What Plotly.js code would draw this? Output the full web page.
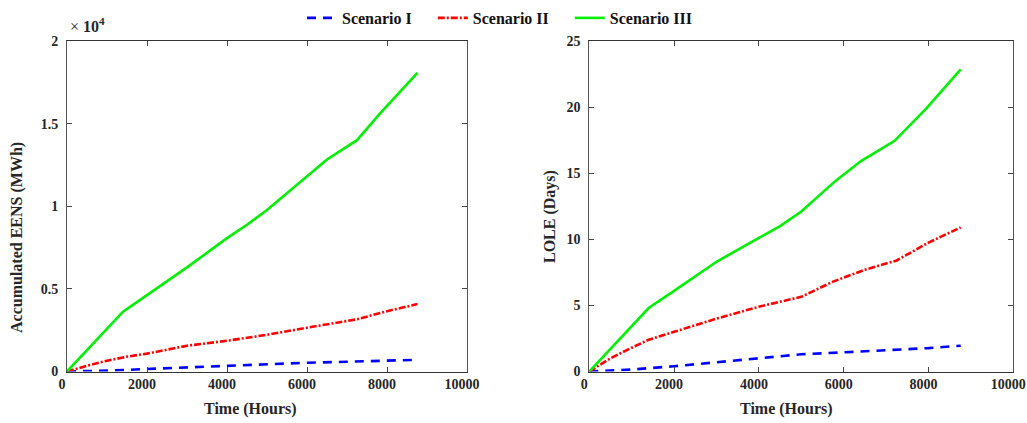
<!DOCTYPE html>
<html><head><meta charset="utf-8">
<script src="https://cdn.plot.ly/plotly-3.0.1.min.js"></script>
<style>html,body{margin:0;padding:0;background:#fff}#chart{width:1027px;height:423px}</style>
</head><body><div id="chart"></div>
<script>
// Series labels
const seriesNames = ['Scenario I', 'Scenario II', 'Scenario III'];

// Left panel: accumulated EENS (MWh)
const eensHoursI   = [0, 1000, 2000, 3000, 4000, 5000, 6000, 7000, 8000, 8760];
const eensI        = [0, 50, 150, 250, 350, 440, 530, 590, 650, 710];
const eensHoursII  = [0, 500, 1000, 1500, 2000, 3000, 4000, 5000, 6000, 7250, 8000, 8760];
const eensII       = [0, 350, 650, 900, 1080, 1560, 1860, 2220, 2650, 3160, 3650, 4080];
const eensHoursIII = [0, 1400, 2000, 3000, 4000, 4500, 5000, 6000, 6500, 7250, 7800, 8760];
const eensIII      = [0, 3620, 4620, 6300, 8070, 8880, 9770, 11820, 12830, 14000, 15550, 18070];

// Right panel: LOLE (days)
const loleHoursI   = [0, 1000, 2000, 3000, 4000, 5000, 6000, 7000, 8000, 8760];
const loleI        = [0, 0.15, 0.4, 0.7, 1.0, 1.3, 1.45, 1.6, 1.77, 1.95];
const loleHoursII  = [0, 500, 1000, 1400, 2000, 3000, 4000, 5000, 5750, 6500, 7250, 8000, 8760];
const loleII       = [0, 1.0, 1.8, 2.4, 3.0, 4.0, 4.9, 5.65, 6.8, 7.7, 8.4, 9.75, 10.9];
const loleHoursIII = [0, 1400, 2000, 3000, 4000, 4500, 5000, 5800, 6400, 7200, 7950, 8760];
const loleIII      = [0, 4.8, 6.1, 8.3, 10.1, 11.0, 12.1, 14.4, 15.9, 17.45, 19.9, 22.85];

// Tick labels
const xTicks = [0, 2000, 4000, 6000, 8000, 10000];
const xTickText = ['0', '2000', '4000', '6000', '8000', '10000'];
const eensTickVals = [0, 5000, 10000, 15000, 20000];
const eensTickText = ['0', '0.5', '1', '1.5', '2'];
const loleTicks = [0, 5, 10, 15, 20, 25];

const colors = ['#0000ff', '#ff0000', '#00ee00'];
const dashes = ['9px,7px', '7px,2px,2px,2px', 'solid'];
const pad = '\u00a0\u00a0\u00a0\u00a0';

function mk(x, y, i, xa, ya, show) {
  return {x: x, y: y, type: 'scatter', mode: 'lines', name: seriesNames[i] + pad,
    xaxis: xa, yaxis: ya, showlegend: show,
    line: {color: colors[i], width: 2.6, dash: dashes[i]}, hoverinfo: 'skip'};
}
const traces = [
  mk(eensHoursI, eensI, 0, 'x', 'y', true),
  mk(eensHoursII, eensII, 1, 'x', 'y', true),
  mk(eensHoursIII, eensIII, 2, 'x', 'y', true),
  mk(loleHoursI, loleI, 0, 'x2', 'y2', false),
  mk(loleHoursII, loleII, 1, 'x2', 'y2', false),
  mk(loleHoursIII, loleIII, 2, 'x2', 'y2', false)
];

const FAM = "'Liberation Serif', 'Times New Roman', serif";
const tickFont = {family: FAM, size: 14, color: '#262626', weight: 'bold'};
const titleFont = {family: FAM, size: 16, color: '#262626', weight: 'bold'};
const W = 1027, H = 423;
const yDom = [1 - 371.5 / H, 1 - 41 / H];

function xaxis(dom, anchor) {
  return {domain: dom, anchor: anchor, range: [0, 10000], tickvals: xTicks, ticktext: xTickText,
    ticks: 'inside', ticklen: 5, tickcolor: '#444', mirror: 'ticks', showline: true,
    linecolor: '#333', linewidth: 1, showgrid: false, zeroline: false, tickfont: tickFont,
    ticklabelshift: -5, ticklabeloverflow: 'allow'};
}
function yaxis(anchor, range, vals, text) {
  const a = {domain: yDom, anchor: anchor, range: range, tickvals: vals,
    ticks: 'inside', ticklen: 5, tickcolor: '#444', mirror: 'ticks', showline: true,
    linecolor: '#555', linewidth: 1, showgrid: false, zeroline: false, tickfont: tickFont,
    ticklabelstandoff: 5};
  if (text) a.ticktext = text;
  return a;
}
function title(text, x, y, angle) {
  return {xref: 'paper', yref: 'paper', x: x / W, y: 1 - y / H, xanchor: 'center', yanchor: 'middle',
    text: text, textangle: angle, showarrow: false, font: titleFont};
}

const layout = {
  width: W, height: H, margin: {l: 0, r: 0, t: 0, b: 0},
  paper_bgcolor: '#fff', plot_bgcolor: '#fff',
  showlegend: true,
  legend: {orientation: 'h', x: 302 / W, y: 1 - 1 / H, xanchor: 'left', yanchor: 'top',
    font: {family: FAM, size: 16, color: '#111', weight: 'bold'},
    bgcolor: 'rgba(255,255,255,0)', itemwidth: 30, tracegroupgap: 0},
  xaxis: xaxis([67 / W, 467 / W], 'y'),
  yaxis: yaxis('x', [0, 20000], eensTickVals, eensTickText),
  xaxis2: xaxis([589.3 / W, 1013.3 / W], 'y2'),
  yaxis2: yaxis('x2', [0, 25], loleTicks, null),
  annotations: [
    title('Time (Hours)', 250, 409, 0),
    title('Time (Hours)', 786, 409, 0),
    title('Accumulated EENS (MWh)', 17, 238, -90),
    title('LOLE (Days)', 550, 217, -90),
    {xref: 'paper', yref: 'paper', x: 68 / W, y: 1 - 37 / H, xanchor: 'left', yanchor: 'bottom',
      text: '× <b>10</b><sup><b>4</b></sup>', showarrow: false,
      font: {family: FAM, size: 16, color: '#262626'}}
  ]
};
Plotly.newPlot('chart', traces, layout, {staticPlot: true, displayModeBar: false});
</script></body></html>
